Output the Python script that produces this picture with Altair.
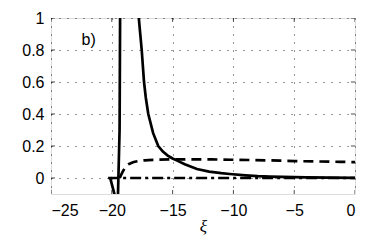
import altair as alt
import pandas as pd

# solid curve
xi_solid = [-20.15, -19.68, -19.5, -19.36, -19.3, -18.6, -17.9, -17.78, -17.66, -17.54,
            -17.35, -17.2, -17.0, -16.6, -16.18, -15.8, -15.4, -15.0, -14.67, -14.0,
            -13.0, -12.0, -11.0, -10.3, -9.0, -8.0, -7.0, -6.0, -4.0, -2.0, 0.0]
y_solid = [0.005, -0.13, -0.13, 0.3, 1.3, 4.0, 1.3, 1.0, 0.9, 0.8,
           0.6, 0.5, 0.4, 0.28, 0.2, 0.165, 0.14, 0.122, 0.11, 0.086,
           0.056, 0.04, 0.03, 0.025, 0.017, 0.012, 0.009, 0.007, 0.004, 0.002, 0.001]

# dashed curve
xi_dashed = [-19.35, -19.1, -18.8, -18.4, -17.8, -17.0, -15.0, -12.0, -10.0, -7.0, -5.0, -2.0, 0.0]
y_dashed = [0.0, 0.04, 0.075, 0.094, 0.106, 0.112, 0.116, 0.116, 0.114, 0.11, 0.106, 0.102, 0.099]

# dash-dot curve
xi_dashdot = [-20.3, 0.0]
y_dashdot = [0.0, 0.0]

x_ticks = [-25, -20, -15, -10, -5, 0]
y_ticks = [0, 0.2, 0.4, 0.6, 0.8, 1]

panel_label = ["b)"]
panel_x = [-21.9]
panel_y = [0.86]

W, H = 304, 176

xs = alt.Scale(domain=[-25, 0], nice=False, zero=False)
ys = alt.Scale(domain=[-0.1, 1], nice=False, zero=False)

common_axis = dict(labelFont="Liberation Sans", labelFontSize=16, labelColor="black",
                   labelOverlap=False, ticks=False, domain=False, grid=True,
                   gridColor="black", gridDash=[1, 7], gridOpacity=0.8, gridWidth=1)

xaxis = alt.Axis(values=x_ticks, format="~g", title="ξ", titleFont="Liberation Serif",
                 titleFontStyle="italic", titleFontWeight="normal", titleFontSize=17,
                 titleColor="black", titlePadding=0, labelPadding=8, **common_axis)
yaxis = alt.Axis(values=y_ticks, format="~g", title=None, labelPadding=7, **common_axis)

X = lambda f: alt.X(f, scale=xs, axis=xaxis)
Y = lambda f: alt.Y(f, scale=ys, axis=yaxis)

def line_df(xv, yv):
    return pd.DataFrame({"x": xv, "y": yv, "o": list(range(len(xv)))})

dashdot = alt.Chart(line_df(xi_dashdot, y_dashdot)).mark_line(
    color="black", strokeWidth=2.7, strokeDash=[11, 4, 3, 4], clip=True
).encode(x=X("x:Q"), y=Y("y:Q"), order="o:Q")

dashed = alt.Chart(line_df(xi_dashed, y_dashed)).mark_line(
    color="black", strokeWidth=2.7, strokeDash=[10, 6], clip=True, interpolate="monotone"
).encode(x=X("x:Q"), y=Y("y:Q"), order="o:Q")

solid = alt.Chart(line_df(xi_solid, y_solid)).mark_line(
    color="black", strokeWidth=2.7, clip=True
).encode(x=X("x:Q"), y=Y("y:Q"), order="o:Q")

xt = pd.DataFrame({"v": x_ticks, "lo": [-0.1] * len(x_ticks), "hi": [1] * len(x_ticks)})
yt = pd.DataFrame({"v": y_ticks, "lo": [-25] * len(y_ticks), "hi": [0] * len(y_ticks)})

tick_bot = alt.Chart(xt).mark_tick(orient="vertical", size=8, thickness=1, color="black", clip=True).encode(
    x=X("v:Q"), y=Y("lo:Q"))
tick_top = alt.Chart(xt).mark_tick(orient="vertical", size=8, thickness=1, color="black", clip=True).encode(
    x=X("v:Q"), y=Y("hi:Q"))
tick_left = alt.Chart(yt).mark_tick(orient="horizontal", size=8, thickness=1, color="black", clip=True).encode(
    y=Y("v:Q"), x=X("lo:Q"))
tick_right = alt.Chart(yt).mark_tick(orient="horizontal", size=8, thickness=1, color="black", clip=True).encode(
    y=Y("v:Q"), x=X("hi:Q"))

label = alt.Chart(pd.DataFrame({"t": panel_label, "x": panel_x, "y": panel_y})).mark_text(
    font="Liberation Sans", fontSize=16, color="black", align="center", baseline="middle"
).encode(x=X("x:Q"), y=Y("y:Q"), text="t:N")

chart = alt.layer(dashdot, dashed, solid, tick_bot, tick_top, tick_left, tick_right, label).properties(
    width=W, height=H,
    autosize=alt.AutoSizeParams(type="none"),
    padding={"left": 43, "top": 10, "right": 20, "bottom": 48},
).configure_view(stroke="black", strokeWidth=1.2).configure(background="white")

chart.save("out.html", embed_options={"renderer": "svg", "actions": False})
